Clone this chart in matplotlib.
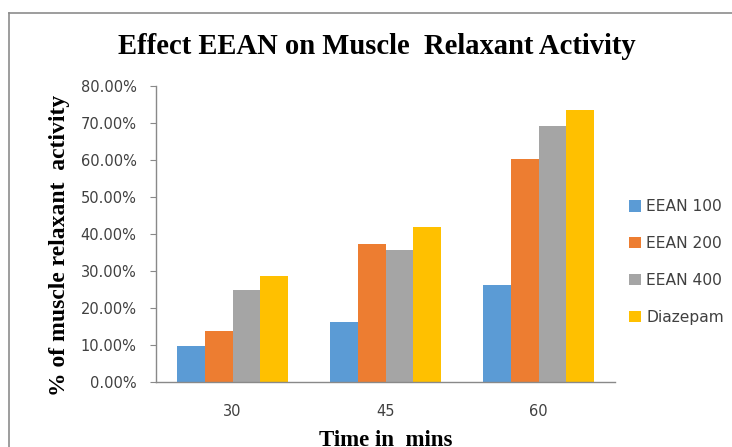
import matplotlib
matplotlib.use("Agg")
import matplotlib.pyplot as plt
from matplotlib.lines import Line2D
import numpy as np

categories = ["30", "45", "60"]
series_names = ["EEAN 100", "EEAN 200", "EEAN 400", "Diazepam"]
eean100 = [0.096, 0.163, 0.262]
eean200 = [0.138, 0.374, 0.602]
eean400 = [0.250, 0.357, 0.693]
diazepam = [0.287, 0.420, 0.735]
yticks = [0.0, 0.1, 0.2, 0.3, 0.4, 0.5, 0.6, 0.7, 0.8]
colors = ["#5B9BD5", "#ED7D31", "#A5A5A5", "#FFC000"]

W, H = 732, 447
fig = plt.figure(figsize=(W / 100, H / 100), dpi=100)
ax = fig.add_axes([156 / W, 1 - 382 / H, (615 - 156) / W, (382 - 86) / H])

x = np.arange(len(categories))
bw = 0.18
data = [eean100, eean200, eean400, diazepam]
for i, (vals, name, c) in enumerate(zip(data, series_names, colors)):
    ax.bar(x + (i - 1.5) * bw, vals, width=bw, color=c, label=name, linewidth=0)

ax.set_xlim(-0.5, 2.5)
ax.set_ylim(0, 0.8)
ax.set_yticks(yticks)
ax.set_yticklabels([f"{v*100:.2f}%" for v in yticks], fontsize=10.5, color="#404040")
ax.set_xticks(x)
ax.set_xticklabels(categories, fontsize=10.5, color="#404040")
ax.tick_params(axis="y", length=4, color="#898989", pad=10)
ax.tick_params(axis="x", length=0, pad=16)
for s in ["top", "right"]:
    ax.spines[s].set_visible(False)
for s in ["left", "bottom"]:
    ax.spines[s].set_color("#898989")
    ax.spines[s].set_linewidth(1)

serif = ["Liberation Serif", "DejaVu Serif"]
fig.text(377 / W, 1 - 46 / H, "Effect EEAN on Muscle  Relaxant Activity",
         ha="center", va="center", fontsize=20.6, fontweight="bold", family=serif)
fig.text(60 / W, 1 - 245 / H, "% of muscle relaxant  activity", rotation=90,
         ha="center", va="center", fontsize=17, fontweight="bold", family=serif)
fig.text(386 / W, 1 - 441 / H, "Time in  mins", ha="center", va="center",
         fontsize=16.5, fontweight="bold", family=serif)

leg = ax.legend(loc="center left", bbox_to_anchor=(615 / W, 1 - 262 / H),
                bbox_transform=fig.transFigure, frameon=False, fontsize=11.2,
                handlelength=0.75, handleheight=0.75, handletextpad=0.35,
                labelspacing=1.4)
for t in leg.get_texts():
    t.set_color("#404040")

# chart border (top and left visible)
fig.add_artist(Line2D([9 / W, 1], [1 - 13 / H, 1 - 13 / H], transform=fig.transFigure,
                      color="#8c8c8c", linewidth=1.2))
fig.add_artist(Line2D([9 / W, 9 / W], [0, 1 - 13 / H], transform=fig.transFigure,
                      color="#8c8c8c", linewidth=1.2))

fig.savefig("out.png", dpi=100)
